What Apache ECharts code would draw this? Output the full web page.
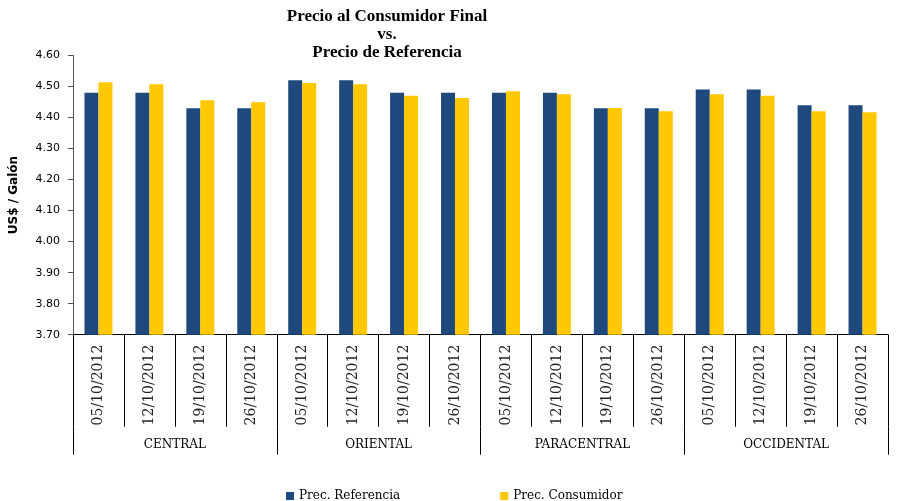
<!DOCTYPE html>
<html>
<head>
<meta charset="utf-8">
<script src="https://cdn.jsdelivr.net/npm/echarts@6/dist/echarts.min.js"></script>
<style>html,body{margin:0;padding:0;background:#fff}#c{width:899px;height:501px}</style>
</head>
<body>
<div id="c"></div>
<script>
const dates = ['05/10/2012','12/10/2012','19/10/2012','26/10/2012','05/10/2012','12/10/2012','19/10/2012','26/10/2012','05/10/2012','12/10/2012','19/10/2012','26/10/2012','05/10/2012','12/10/2012','19/10/2012','26/10/2012'];
const regions = ['CENTRAL','ORIENTAL','PARACENTRAL','OCCIDENTAL'];
const precReferencia = [4.48,4.48,4.43,4.43, 4.52,4.52,4.48,4.48, 4.48,4.48,4.43,4.43, 4.49,4.49,4.44,4.44];
const precConsumidor = [4.514,4.507,4.456,4.449, 4.511,4.507,4.47,4.463, 4.485,4.475,4.431,4.42, 4.475,4.47,4.42,4.417];
const yTicks = {min:3.7, max:4.6, interval:0.1};

const chart = echarts.init(document.getElementById('c'));
chart.setOption({
  animation:false,
  title:{
    text:'Precio al Consumidor Final\nvs.\nPrecio de Referencia',
    left:382, top:3, textAlign:'center',
    textStyle:{fontFamily:'Liberation Serif', fontWeight:'bold', fontSize:17, lineHeight:18, color:'#000'}
  },
  legend:{
    left:281, top:485, itemWidth:8, itemHeight:8, itemGap:100, icon:'rect',
    textStyle:{fontFamily:'DejaVu Serif', fontSize:12, color:'#000'},
    data:['Prec. Referencia','Prec. Consumidor']
  },
  grid:{left:71, right:11, top:55.5, bottom:166.3},
  xAxis:[{
    type:'category', data:dates, position:'bottom',
    axisLine:{lineStyle:{color:'#000', width:1}},
    axisTick:{show:true, length:92, interval:0, lineStyle:{color:'#000'}},
    axisLabel:{rotate:90, interval:0, margin:10, fontFamily:'DejaVu Serif', fontSize:14, color:'#222'}
  },{
    type:'category', data:regions, position:'bottom', offset:92,
    axisLine:{show:false},
    axisTick:{show:true, length:28, interval:0, lineStyle:{color:'#000'}},
    axisLabel:{interval:0, margin:12, fontFamily:'DejaVu Serif', fontSize:12, color:'#000'}
  }],
  yAxis:{
    type:'value', min:yTicks.min, max:yTicks.max, interval:yTicks.interval,
    name:'US$ / Galón', nameLocation:'middle', nameGap:53,
    nameTextStyle:{fontFamily:'DejaVu Sans', fontWeight:'bold', fontSize:12, color:'#000'},
    axisLine:{show:true, lineStyle:{color:'#555'}},
    axisTick:{show:true, length:5, lineStyle:{color:'#555'}},
    splitLine:{show:false},
    axisLabel:{margin:13, fontFamily:'DejaVu Sans', fontSize:11, color:'#000', formatter:v=>v.toFixed(2)}
  },
  series:[{
    name:'Prec. Referencia', type:'bar', data:precReferencia, barWidth:14, barGap:'0%',
    itemStyle:{color:'#1F497D'}
  },{
    name:'Prec. Consumidor', type:'bar', data:precConsumidor, barWidth:14, barGap:'0%',
    itemStyle:{color:'#FFC800'}
  }]
});
</script>
</body>
</html>
